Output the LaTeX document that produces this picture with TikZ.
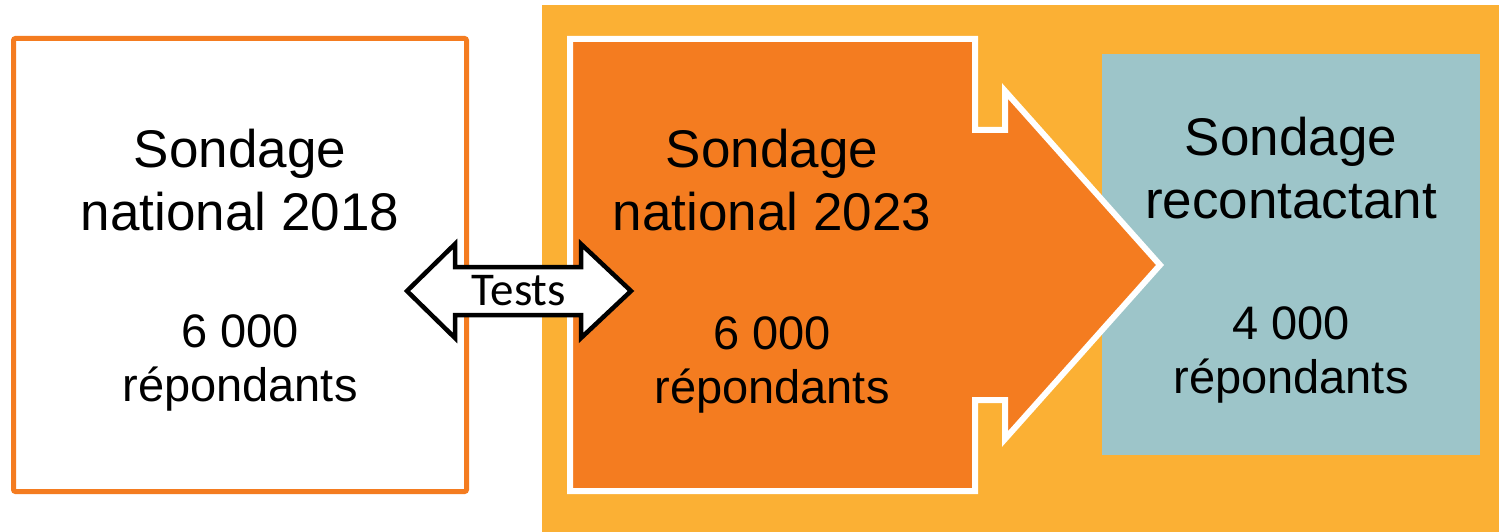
\documentclass[tikz,border=0pt]{standalone}
\usepackage{fontspec}
\setmainfont{Liberation Sans}
\newfontfamily\testsfont{Carlito}
\definecolor{bgorange}{HTML}{FBB034}
\definecolor{darkorange}{HTML}{F47C20}
\definecolor{teal}{HTML}{9DC5C9}
\tikzset{
  big/.style={font=\fontsize{53}{63}\selectfont, align=center, anchor=base, text=black, inner sep=0pt},
  cnt/.style={font=\fontsize{47}{54}\selectfont, align=center, anchor=base, text=black, inner sep=0pt},
}
\begin{document}
\begin{tikzpicture}[x=1pt,y=-1pt]
\useasboundingbox (0,0) rectangle (1499,532);
\fill[white] (0,0) rectangle (1499,532);
% background panel
\fill[bgorange] (542,5) rectangle (1499,532);
% recontact box
\fill[teal] (1102,54) rectangle (1480,455);
% big arrow
\draw[white, line width=6pt, fill=darkorange, line join=miter]
  (570,39) -- (975,39) -- (975,130) -- (1005,130) -- (1005,91) -- (1160,265)
  -- (1005,439) -- (1005,400) -- (975,400) -- (975,491) -- (570,491) -- cycle;
% left box
\draw[darkorange, line width=5pt, fill=white, rounded corners=2pt] (13.5,38.5) rectangle (466.5,491.5);
% double arrow
\draw[black, line width=4.5pt, fill=white, line join=miter]
  (407,291) -- (455,244) -- (455,267) -- (581,267) -- (581,244) -- (631,291)
  -- (581,338) -- (581,315) -- (455,315) -- (455,338) -- cycle;
\node[font=\testsfont\fontsize{47}{47}\selectfont, anchor=base, inner sep=0pt] (tests) at (519,305) {Tests};
% texts (base anchor = baseline of last line)
\node[big] (t2018) at (240,230) {Sondage\\national 2018};
\node[cnt] (c2018) at (240,401) {6 000\\répondants};
\node[big] (t2023) at (772,230) {Sondage\\national 2023};
\node[cnt] (c2023) at (772,403) {6 000\\répondants};
\node[big] (trec) at (1291,218) {Sondage\\recontactant};
\node[cnt] (crec) at (1291,393) {4 000\\répondants};
\end{tikzpicture}
\end{document}
